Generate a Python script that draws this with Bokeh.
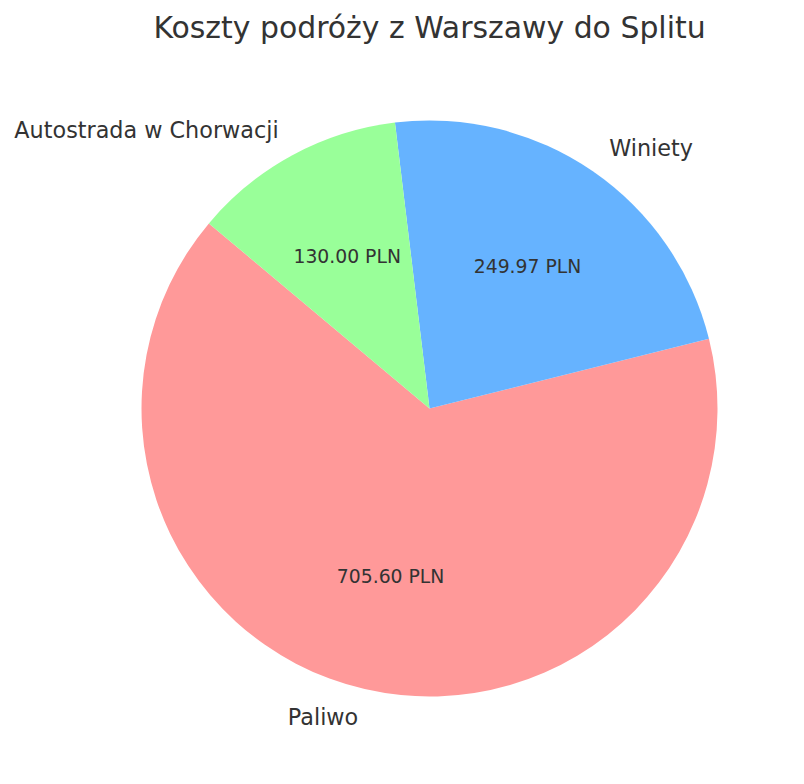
import numpy as np
from bokeh.plotting import figure
from bokeh.models import Range1d, ColumnDataSource, Label
from bokeh.core.properties import value
from bokeh.embed import file_html
from bokeh.resources import INLINE

title = "Koszty podróży z Warszawy do Splitu"
categories = ["Paliwo", "Winiety", "Autostrada w Chorwacji"]
costs = [705.60, 249.97, 130.00]
colors = ["#ff9999", "#66b3ff", "#99ff99"]
start_deg = 140.0

W, H = 788, 768
cx, cy = 429, 408  # pie centre, pixels from top-left of canvas
R = 288.0

vals = np.array(costs)
frac = vals / vals.sum()
ends = np.deg2rad(start_deg) + 2 * np.pi * np.cumsum(frac)
starts = ends - 2 * np.pi * frac
mids = (starts + ends) / 2

p = figure(width=W, height=H, output_backend="svg", toolbar_location=None,
           x_range=Range1d(-cx, W - cx), y_range=Range1d(-(H - cy), cy),
           min_border=0)
p.axis.visible = False
p.grid.visible = False
p.outline_line_color = None
p.background_fill_color = "white"
p.border_fill_color = "white"

src = ColumnDataSource(dict(start=starts, end=ends, color=colors))
p.wedge(x=0, y=0, radius=R, start_angle="start", end_angle="end",
        direction="anticlock", fill_color="color", line_color=None, source=src)

lx = 1.1 * R * np.cos(mids)
ly = 1.1 * R * np.sin(mids)
align = ["left" if x > 0 else "right" for x in lx]
lsrc = ColumnDataSource(dict(x=lx, y=ly, t=categories, a=align))
p.text(x="x", y="y", text="t", text_align="a", text_baseline="middle",
       text_font=value("DejaVu Sans"), text_font_size="22.3px",
       text_color="#333333", source=lsrc)

px = 0.6 * R * np.cos(mids)
py = 0.6 * R * np.sin(mids)
ptxt = [f"{v:.2f} PLN" for v in costs]
psrc = ColumnDataSource(dict(x=px, y=py, t=ptxt))
p.text(x="x", y="y", text="t", text_align="center", text_baseline="middle",
       text_font=value("DejaVu Sans"), text_font_size="18.8px",
       text_color="#333333", source=psrc)

p.add_layout(Label(x=cx, y=H - 27, x_units="screen", y_units="screen",
                   text=title, text_align="center", text_baseline="middle",
                   text_font="DejaVu Sans", text_font_size="29.9px",
                   text_color="#333333"))

open("out.html", "w").write(file_html(p, INLINE))
